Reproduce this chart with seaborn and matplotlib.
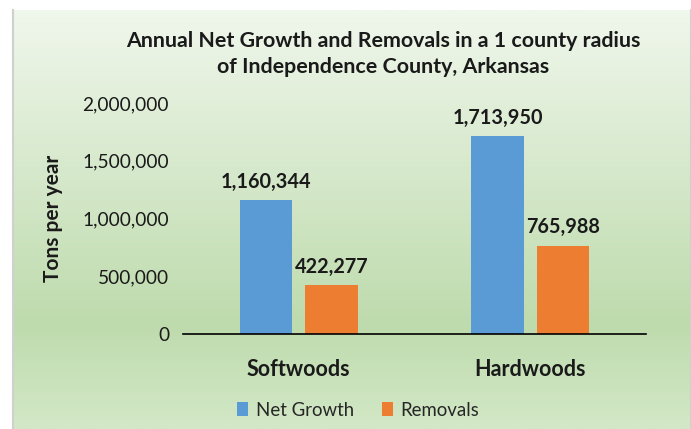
import matplotlib.pyplot as plt
import matplotlib.colors as mcolors
import numpy as np
import seaborn as sns
import pandas as pd

categories = ['Softwoods', 'Hardwoods']
series = ['Net Growth', 'Removals']
net_growth = [1160344, 1713950]
removals = [422277, 765988]
yticks = [0, 500000, 1000000, 1500000, 2000000]

df = pd.DataFrame({
    'type': categories * 2,
    'series': [series[0]] * 2 + [series[1]] * 2,
    'tons': net_growth + removals,
})

sns.set_theme(style='white')
plt.rcParams['font.family'] = ['Lato', 'DejaVu Sans']

fig = plt.figure(figsize=(6.91, 4.29), dpi=100)
fig.patch.set_facecolor('white')

# gradient background panel
bg = fig.add_axes([13 / 691, 0, 1 - 13 / 691, 1 - 10 / 429])
cmap = mcolors.LinearSegmentedColormap.from_list(
    'g', [(0, '#f0f7ec'), (0.75, '#bedbad'), (1.0, '#d3e8c7')])
bg.imshow(np.linspace(0, 1, 256).reshape(-1, 1), aspect='auto', cmap=cmap,
          extent=[0, 1, 0, 1])
bg.set_xticks([])
bg.set_yticks([])
for s in ['top', 'bottom']:
    bg.spines[s].set_visible(False)
for s in ['left', 'right']:
    bg.spines[s].set_color('#d0d0d0')
    bg.spines[s].set_linewidth(1.5)

ax = fig.add_axes([183 / 691, 1 - 334 / 429, (646 - 183) / 691, (334 - 103) / 429])
ax.patch.set_alpha(0)
sns.barplot(data=df, x='type', y='tons', hue='series', order=categories,
            hue_order=series, palette=['#5b9bd5', '#ed7d31'], saturation=1,
            width=0.566, gap=0.2, linewidth=0, ax=ax, legend=True)

ax.set_ylim(0, 2000000)
ax.set_yticks(yticks)
ax.set_yticklabels([f'{v:,}' for v in yticks], fontsize=13.8, color='#1a1a1a')
ax.tick_params(axis='y', length=0, pad=10)
ax.tick_params(axis='x', length=0, pad=18)
for lbl in ax.get_xticklabels():
    lbl.set_fontsize(15.5)
    lbl.set_fontweight('bold')
    lbl.set_color('#1a1a1a')
ax.set_xlabel('')
ax.set_ylabel('Tons per year', fontsize=15, fontweight='bold', color='#1a1a1a', labelpad=14)
for s in ['top', 'right', 'left']:
    ax.spines[s].set_visible(False)
ax.spines['bottom'].set_color('black')
ax.spines['bottom'].set_linewidth(1.2)

for cont in ax.containers:
    ax.bar_label(cont, labels=[f'{int(v):,}' for v in cont.datavalues],
                 padding=6, fontsize=14.3, fontweight='bold', color='#1a1a1a')

ax.legend(loc='center', bbox_to_anchor=(358 / 691, 1 - 410 / 429),
          bbox_transform=fig.transFigure, ncol=2, frameon=False, fontsize=13.4,
          handlelength=0.6, handleheight=0.8, handletextpad=0.4, columnspacing=1.5)

fig.text(383 / 691, 1 - 54 / 429,
         'Annual Net Growth and Removals in a 1 county radius\nof Independence County, Arkansas',
         ha='center', va='center', fontsize=15.4, fontweight='bold', color='#1a1a1a',
         linespacing=1.35)

fig.savefig('out.png', dpi=100)
